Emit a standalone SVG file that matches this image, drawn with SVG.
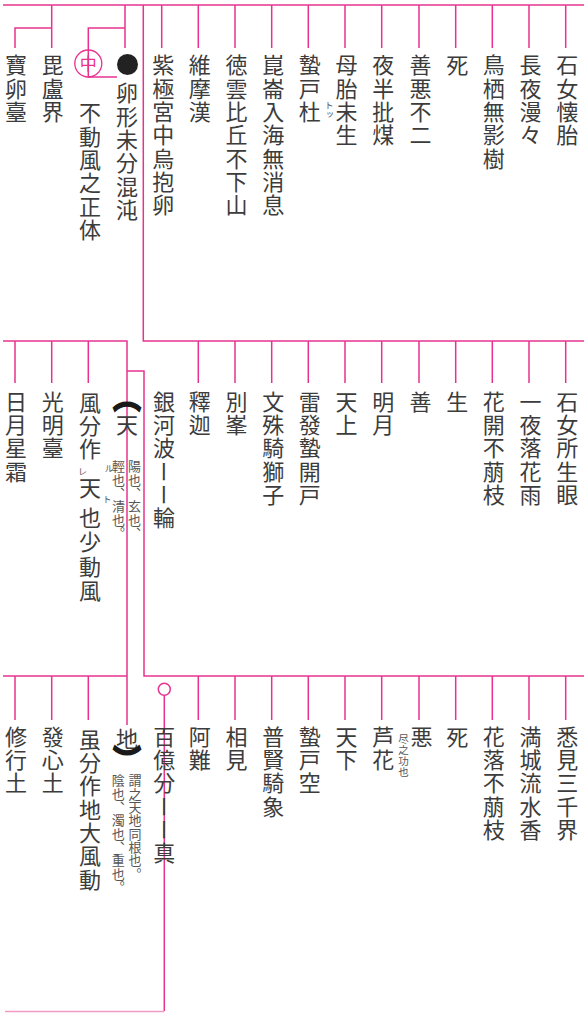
<svg xmlns="http://www.w3.org/2000/svg" width="584" height="1013" viewBox="0 0 584 1013">
<style>
.ln{stroke:#e8338e;stroke-width:1.5;fill:none}
.t{font-family:"Noto Sans CJK JP","Noto Sans CJK SC",sans-serif;font-size:22px;fill:#3c3c3c;writing-mode:vertical-rl;letter-spacing:1.3px}
.s{font-family:"Noto Sans CJK JP","Noto Sans CJK SC",sans-serif;font-size:13px;fill:#555;writing-mode:vertical-rl;letter-spacing:0.3px}
.r{font-family:"Noto Sans CJK JP","Noto Sans CJK SC",sans-serif;font-size:9px;fill:#555;writing-mode:vertical-rl}
.br{font-size:28px;font-weight:900;fill:#1a1a1a;stroke:#1a1a1a;stroke-width:1.6}
</style>
<rect width="584" height="1013" fill="#fff"/>
<g id="connectors">
<path class="ln" d="M3,5H584"/>
<path class="ln" d="M143.3,5V341H584"/>
<path class="ln" d="M565.7,5V48M529,5V48M492.3,5V48M455.7,5V48M419,5V48M381.7,5V48M345,5V48M308.3,5V48M271.7,5V48M235,5V48M198.3,5V48M161.7,5V48"/>
<path class="ln" d="M125,5V48M125,28H88.3V77H117"/>
<path class="ln" d="M51.7,5V48M15,48V28H51.7"/>
<path class="ln" d="M3,341H127V725"/>
<path class="ln" d="M127,371H144V676H584"/>
<path class="ln" d="M15,341V383M51.7,341V383M88.3,341V383"/>
<path class="ln" d="M565.7,341V383M529,341V383M492.3,341V383M455.7,341V383M419,341V383M381.7,341V383M345,341V383M308.3,341V383M271.7,341V383M235,341V383M198.3,341V383"/>
<path class="ln" d="M3,676H127"/>
<path class="ln" d="M15,676V720M51.7,676V720M88.3,676V720"/>
<path class="ln" d="M565.7,676V720M529,676V720M492.3,676V720M455.7,676V720M419,676V720M381.7,676V720M345,676V720M308.3,676V720M271.7,676V720M235,676V720M198.3,676V720"/>
<circle class="ln" cx="164.3" cy="689.3" r="6"/>
<path class="ln" d="M164.3,695.3V1011"/>
<path d="M164.3,1011.5H5" stroke="#f29ac6" stroke-width="1.5" fill="none"/>
</g>
<g id="s1">
<g id="n1-1"><text class="t" x="567.2" y="54">石女懐胎</text></g>
<g id="n1-2"><text class="t" x="530.5" y="54">長夜漫々</text></g>
<g id="n1-3"><text class="t" x="493.8" y="54">鳥栖無影樹</text></g>
<g id="n1-4"><text class="t" x="457.2" y="54">死</text></g>
<g id="n1-5"><text class="t" x="420.5" y="54">善悪不二</text></g>
<g id="n1-6"><text class="t" x="383.2" y="54">夜半批煤</text></g>
<g id="n1-7"><text class="t" x="346.5" y="54">母胎未生</text></g>
<g id="n1-8"><text class="t" x="309.8" y="54">蟄戸杜</text><text class="r" x="329" y="101">トッ</text></g>
<g id="n1-9"><text class="t" x="273.2" y="54">崑崙入海無消息</text></g>
<g id="n1-10"><text class="t" x="236.5" y="54">徳雲比丘不下山</text></g>
<g id="n1-11"><text class="t" x="199.8" y="54">維摩漢</text></g>
<g id="n1-12"><text class="t" x="163.2" y="54">紫極宮中烏抱卵</text></g>
<g id="n1-13"><circle cx="127.5" cy="64.5" r="10.5" fill="#222"/><text class="t" x="127" y="82">卵形未分混沌</text></g>
<g id="n1-14"><circle cx="88.3" cy="63.5" r="13.5" fill="none" stroke="#e8338e" stroke-width="1.3"/><text x="88.3" y="69.5" font-family="Noto Sans CJK JP,sans-serif" font-size="17" fill="#e8338e" text-anchor="middle">中</text><text class="t" x="90" y="102">不動風之正体</text></g>
<g id="n1-15"><text class="t" x="52.7" y="54">毘盧界</text></g>
<g id="n1-16"><text class="t" x="16" y="54">寶卵臺</text></g>
</g>
<g id="s2">
<g id="n2-1"><text class="t" x="567.2" y="390.5">石女所生眼</text></g>
<g id="n2-2"><text class="t" x="530.5" y="390.5">一夜落花雨</text></g>
<g id="n2-3"><text class="t" x="493.8" y="390.5">花開不萠枝</text></g>
<g id="n2-4"><text class="t" x="457.2" y="390.5">生</text></g>
<g id="n2-5"><text class="t" x="420.5" y="390.5">善</text></g>
<g id="n2-6"><text class="t" x="383.2" y="390.5">明月</text></g>
<g id="n2-7"><text class="t" x="346.5" y="390.5">天上</text></g>
<g id="n2-8"><text class="t" x="309.8" y="390.5">雷發蟄開戸</text></g>
<g id="n2-9"><text class="t" x="273.2" y="390.5">文殊騎獅子</text></g>
<g id="n2-10"><text class="t" x="236.5" y="390.5">別峯</text></g>
<g id="n2-11"><text class="t" x="199.8" y="390.5">釋迦</text></g>
<g id="n2-12"><text class="t" x="164" y="390.5">銀河波ーー輪</text></g>
<g id="n2-13"><text class="t" x="127" y="384"><tspan class="br">︵</tspan>天</text><text class="s" x="134.5" y="460">陽也、玄也、</text><text class="s" x="118.5" y="460">輕也、清也。</text></g>
<g id="n2-14"><text class="t" x="90" y="391.5">風分作</text><text class="r" x="109" y="464">ル</text><text class="r" x="82.5" y="467">レ</text><text class="t" x="90" y="476.5">天</text><text class="r" x="107" y="495">ト</text><text class="t" x="90" y="506.5" style="letter-spacing:2.5px">也少動風</text></g>
<g id="n2-15"><text class="t" x="52.7" y="390.5">光明臺</text></g>
<g id="n2-16"><text class="t" x="16" y="390.5">日月星霜</text></g>
</g>
<g id="s3">
<g id="n3-1"><text class="t" x="567.2" y="725.5">悉見三千界</text></g>
<g id="n3-2"><text class="t" x="530.5" y="725.5">満城流水香</text></g>
<g id="n3-3"><text class="t" x="493.8" y="725.5">花落不萠枝</text></g>
<g id="n3-4"><text class="t" x="457.2" y="725.5">死</text></g>
<g id="n3-5"><text class="t" x="421.5" y="725.5">悪</text><text class="s" x="403.5" y="734" style="font-size:10.5px">尽之功也</text></g>
<g id="n3-6"><text class="t" x="383.2" y="725.5">芦花</text></g>
<g id="n3-7"><text class="t" x="346.5" y="725.5">天下</text></g>
<g id="n3-8"><text class="t" x="309.8" y="725.5">蟄戸空</text></g>
<g id="n3-9"><text class="t" x="273.2" y="725.5">普賢騎象</text></g>
<g id="n3-10"><text class="t" x="236.5" y="725.5">相見</text></g>
<g id="n3-11"><text class="t" x="199.8" y="725.5">阿難</text></g>
<g id="n3-12"><text class="t" x="164.3" y="725.5">百億分ーー真</text></g>
<g id="n3-13"><text class="t" x="127" y="728">地<tspan class="br" dy="-6">︶</tspan></text><text class="s" x="135" y="774">謂之天地同根也。</text><text class="s" x="118.3" y="774">陰也、濁也、重也。</text></g>
<g id="n3-14"><text class="t" x="90" y="728.5">虽分作地大風動</text></g>
<g id="n3-15"><text class="t" x="52.7" y="725.5">發心土</text></g>
<g id="n3-16"><text class="t" x="16" y="725.5">修行土</text></g>
</g>
</svg>
